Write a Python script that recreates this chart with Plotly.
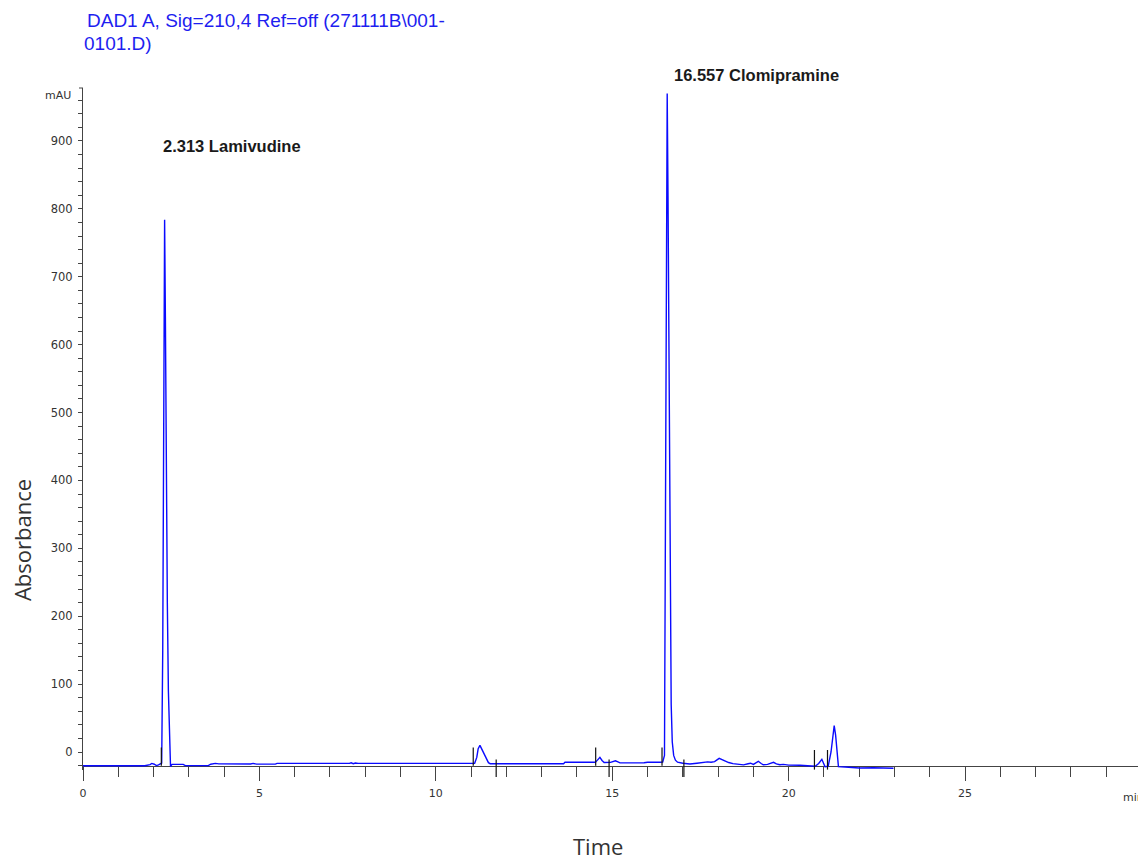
import plotly.graph_objects as go

# DAD1 A chromatogram, signal 210 nm
time_min = [
    0.00, 1.75, 1.90, 1.95, 2.02, 2.08, 2.14, 2.19, 2.23,
    2.26, 2.29, 2.313, 2.335, 2.36, 2.39, 2.42, 2.45, 2.48, 2.52,
    2.84, 2.90, 3.55, 3.62, 3.75, 3.85, 4.45, 4.54, 4.65, 4.75, 4.82, 4.92,
    5.45, 5.50, 7.55, 7.60, 7.66, 7.72, 7.80, 9.25, 9.30,
    11.00, 11.10, 11.16, 11.20, 11.25, 11.32, 11.40, 11.49, 11.54,
    13.62, 13.66, 14.52, 14.58, 14.65, 14.71, 14.77, 14.95, 15.02, 15.09,
    15.16, 15.22, 15.90, 16.00, 16.35, 16.43,
    16.48, 16.51, 16.54, 16.557, 16.58, 16.61, 16.64, 16.67, 16.70, 16.74,
    16.79, 16.85, 17.00, 17.20, 17.40, 17.60, 17.70, 17.80, 17.90, 18.03,
    18.15, 18.30, 18.42, 18.72, 18.85, 18.92, 19.00, 19.07, 19.14, 19.22,
    19.28, 19.40, 19.50, 19.57, 19.65, 19.75, 19.85, 20.00, 20.32, 20.60,
    20.75, 20.85, 20.94, 21.03, 21.12, 21.20, 21.26, 21.29, 21.33, 21.37,
    21.41, 21.60, 22.00, 22.40, 22.60, 22.97,
]
absorbance_mau = [
    -20.2, -20.2, -18.5, -16.8, -18.0, -20.0, -19.0, -17.2, -16.5,
    150, 560, 784, 640, 420, 220, 90, 10, -21.5, -18.2,
    -18.2, -20.0, -20.0, -18.0, -16.8, -17.5, -17.8, -16.8, -17.8, -17.6, -16.8, -17.8,
    -17.8, -16.8, -16.8, -16.0, -17.2, -16.2, -16.8, -16.8, -17.4,
    -17.4, -16.5, -8.0, 5.0, 9.8, 3.0, -6.0, -15.7, -17.2,
    -17.2, -15.2, -15.2, -12.0, -7.8, -12.5, -15.5, -15.3, -14.0, -13.0,
    -14.5, -16.0, -15.8, -15.0, -15.0, -14.8,
    -5.0, 300, 800, 970, 820, 500, 220, 70, 15, -5.0,
    -12.0, -15.0, -16.5, -17.6, -16.5, -14.8, -14.5, -15.0, -14.2, -9.3,
    -12.5, -15.5, -17.2, -19.0, -17.3, -16.5, -18.2, -16.0, -13.7, -17.0,
    -18.8, -18.2, -16.2, -15.2, -17.5, -18.8, -18.2, -19.3, -19.6, -20.2,
    -21.0, -17.0, -10.8, -21.6, -21.0, 0.0, 32.0, 38.8, 25.0, -5.0,
    -21.6, -22.0, -23.5, -23.2, -23.5, -24.0,
]

# integration events: peak starts (drawn above the baseline) and peak ends (drawn across the axis)
event_start_min = [2.22, 11.06, 14.53, 16.41]
event_start_late_min = [20.73, 21.10]
event_end_min = [11.71, 14.91, 17.03]

peak_times = [2.313, 16.557]
peak_heights = [784, 970]
peak_names = ["Lamivudine", "Clomipramine"]

AXIS_COLOR = "#444444"
TICK_FONT = dict(family="DejaVu Sans", size=11, color="#333333")

Y_MIN, Y_MAX = -26.51, 978.0   # plot area spans a little below the time axis
X_AXIS_AT = -20.6               # mAU level where the time axis is drawn

fig = go.Figure()

fig.add_trace(go.Scatter(
    x=time_min, y=absorbance_mau, mode="lines",
    line=dict(color="#0a0aff", width=1.4),
    hoverinfo="skip", showlegend=False,
))

event_style = dict(mode="markers", cliponaxis=False, hoverinfo="skip", showlegend=False)
fig.add_trace(go.Scatter(
    x=event_start_min, y=[-6.8] * len(event_start_min),
    marker=dict(symbol="line-ns", size=13, line=dict(color="#111111", width=1.2)),
    **event_style,
))
fig.add_trace(go.Scatter(
    x=event_start_late_min, y=[-11.5] * len(event_start_late_min),
    marker=dict(symbol="line-ns", size=14, line=dict(color="#111111", width=1.2)),
    **event_style,
))
fig.add_trace(go.Scatter(
    x=event_end_min, y=[-23.9] * len(event_end_min),
    marker=dict(symbol="line-ns", size=12.5, line=dict(color="#111111", width=1.2)),
    **event_style,
))

fig.update_layout(
    width=1138, height=859,
    margin=dict(l=83, r=0, t=88, b=89, pad=0),
    paper_bgcolor="white", plot_bgcolor="white",
    showlegend=False,
)

fig.update_xaxes(
    range=[0, 29.9], showgrid=False, zeroline=False,
    anchor="free", position=(X_AXIS_AT - Y_MIN) / (Y_MAX - Y_MIN),
    showline=True, linecolor=AXIS_COLOR, linewidth=1, layer="below traces",
    ticks="outside", tick0=0, dtick=5, ticklen=14, tickwidth=1, tickcolor=AXIS_COLOR,
    minor=dict(ticks="outside", tick0=0, dtick=1, ticklen=10, tickwidth=1, tickcolor=AXIS_COLOR),
    tickfont=TICK_FONT, ticklabelstandoff=3,
)
fig.update_yaxes(
    range=[Y_MIN, Y_MAX], showgrid=False, zeroline=False,
    showline=True, linecolor=AXIS_COLOR, linewidth=1, layer="below traces",
    ticks="outside", tick0=0, dtick=100, ticklen=4, tickwidth=1, tickcolor=AXIS_COLOR,
    minor=dict(ticks="outside", tick0=0, dtick=20, ticklen=4, tickwidth=1, tickcolor=AXIS_COLOR),
    tickfont=dict(family="DejaVu Sans", size=11.5, color="#333333"), ticklabelstandoff=3,
)

# small cap at the top of the y axis
fig.add_shape(type="line", xref="paper", yref="paper",
              x0=-4 / 1055, x1=0, y0=1, y1=1,
              line=dict(color=AXIS_COLOR, width=1))

title_font = dict(family="Liberation Sans", size=19, color="#1e1ef0")
fig.add_annotation(text="DAD1 A, Sig=210,4 Ref=off (271111B\\001-",
                   xref="paper", yref="paper", x=0, y=1.0997, xshift=2,
                   xanchor="left", yanchor="middle", showarrow=False, font=title_font)
fig.add_annotation(text="0101.D)",
                   xref="paper", yref="paper", x=0, y=1.0653, xshift=-1,
                   xanchor="left", yanchor="middle", showarrow=False, font=title_font)

fig.add_annotation(text="mAU", xref="paper", yref="paper", x=-0.0098, y=0.9897,
                   xanchor="right", yanchor="middle", showarrow=False, font=TICK_FONT)
fig.add_annotation(text="min", xref="paper", yref="paper", x=0.9835, y=-0.0396,
                   xanchor="left", yanchor="middle", showarrow=False, font=TICK_FONT)

label_font = dict(family="Liberation Sans", size=16.5, color="#1a1a1a")
label_shift = [(-4, 0, 892.6), (5, 18, None)]
for t, h, name, (dx, dy, ylab) in zip(peak_times, peak_heights, peak_names, label_shift):
    fig.add_annotation(text=f"<b>{t:.3f} {name}</b>",
                       x=t, y=ylab if ylab is not None else h,
                       xshift=dx, yshift=dy,
                       xanchor="left", yanchor="middle", showarrow=False, font=label_font)

axis_title_font = dict(family="Open Sans", size=22, color="#333333")
fig.add_annotation(text="Absorbance", xref="paper", yref="paper", x=-0.0578, y=0.3372,
                   textangle=-90, xanchor="center", yanchor="middle",
                   showarrow=False, font=axis_title_font)
fig.add_annotation(text="Time", xref="paper", yref="paper", x=0.4882, y=-0.1115,
                   xanchor="center", yanchor="middle", showarrow=False, font=axis_title_font)

fig.write_html("out.html")
